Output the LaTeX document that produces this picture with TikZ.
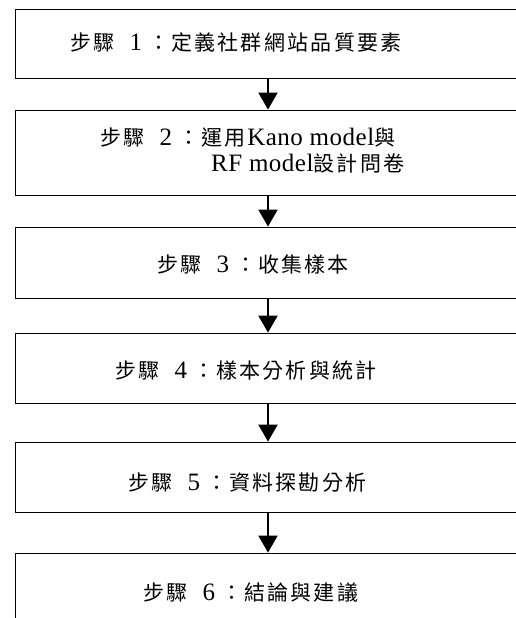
\documentclass[tikz,border=0pt]{standalone}
\usepackage{fontspec}
\setmainfont{Liberation Serif}[LetterSpace=2]
\newfontfamily\cjk[LetterSpace=11]{Noto Sans CJK TC}
\newcommand{\C}[1]{{\fontsize{21}{25}\selectfont\cjk #1}}
\newcommand{\steplabel}[1]{\C{步驟}\hspace{15pt}#1\hspace{6pt}\C{：}\hspace{2pt}}
\usetikzlibrary{arrows.meta}
\tikzset{
  stepbox/.style={draw=black, line width=0.8pt, minimum width=506pt, inner sep=0pt},
  txt/.style={font=\fontsize{25}{29}\selectfont, inner sep=0pt, anchor=base west},
  arr/.style={line width=2pt, -{Triangle[length=17pt,width=19pt]}}
}
\begin{document}
\begin{tikzpicture}[x=1pt,y=-1pt]
\useasboundingbox (0,0) rectangle (516,618);
\clip (0,0) rectangle (516,618);
\node[stepbox, minimum height=69pt] (b1) at (268,43.5) {};
\node[stepbox, minimum height=85pt] (b2) at (268,152.5) {};
\node[stepbox, minimum height=71pt] (b3) at (268,262.5) {};
\node[stepbox, minimum height=70pt] (b4) at (268,368) {};
\node[stepbox, minimum height=70pt] (b5) at (268,477) {};
\node[stepbox, minimum height=100pt] (b6) at (268,603) {};
\node[txt] (t1) at (70,51) {\steplabel{1}\C{定義社群網站品質要素}};
\node[txt] (t2a) at (100,145) {\steplabel{2}\C{運用}\hspace{2pt}Kano model\C{與}};
\node[txt] (t2b) at (211,171) {RF model\C{設計問卷}};
\node[txt] (t3) at (157,272) {\steplabel{3}\C{收集樣本}};
\node[txt] (t4) at (115,378) {\steplabel{4}\C{樣本分析與統計}};
\node[txt] (t5) at (128,490) {\steplabel{5}\C{資料探勘分析}};
\node[txt] (t6) at (143,600) {\steplabel{6}\C{結論與建議}};
\foreach \a/\b in {b1/b2,b2/b3,b3/b4,b4/b5,b5/b6}
  \draw[arr] (\a.south) -- (\b.north);
\end{tikzpicture}
\end{document}
